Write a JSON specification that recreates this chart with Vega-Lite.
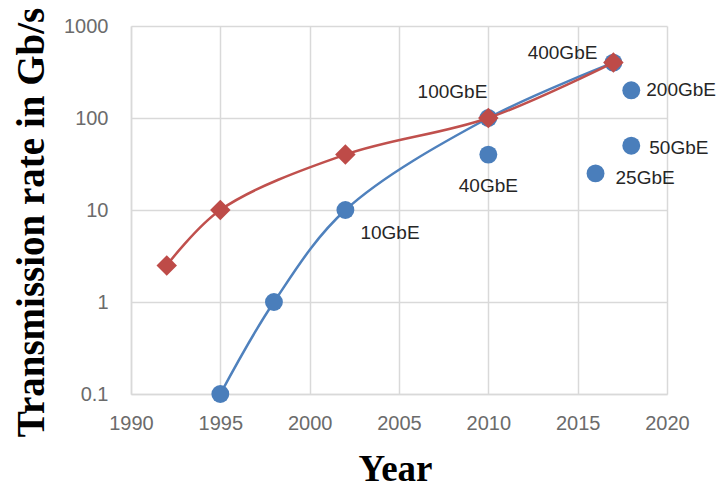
{
  "$schema": "https://vega.github.io/schema/vega-lite/v6.json",
  "width": 536,
  "height": 368,
  "autosize": {"type": "none"},
  "padding": {"left": 131, "top": 26, "right": 51, "bottom": 95},
  "background": "white",
  "config": {"view": {"stroke": null}},
  "data": {
    "values": [
      {"year": 1995, "rate": 0.1, "series": "blue", "label": ""},
      {"year": 1998, "rate": 1, "series": "blue", "label": ""},
      {"year": 2002, "rate": 10, "series": "blue", "label": "10GbE"},
      {"year": 2010, "rate": 100, "series": "blue", "label": "100GbE"},
      {"year": 2017, "rate": 400, "series": "blue", "label": "400GbE"},
      {"year": 1992, "rate": 2.5, "series": "red", "label": ""},
      {"year": 1995, "rate": 10, "series": "red", "label": ""},
      {"year": 2002, "rate": 40, "series": "red", "label": ""},
      {"year": 2010, "rate": 100, "series": "red", "label": ""},
      {"year": 2017, "rate": 400, "series": "red", "label": ""},
      {"year": 2010, "rate": 40, "series": "extra", "label": "40GbE"},
      {"year": 2016, "rate": 25, "series": "extra", "label": "25GbE"},
      {"year": 2018, "rate": 50, "series": "extra", "label": "50GbE"},
      {"year": 2018, "rate": 200, "series": "extra", "label": "200GbE"}
    ]
  },
  "encoding": {
    "x": {
      "field": "year",
      "type": "quantitative",
      "scale": {"domain": [1990, 2020], "nice": false, "zero": false},
      "axis": {
        "values": [1990, 1995, 2000, 2005, 2010, 2015, 2020],
        "format": "d",
        "title": "Year",
        "titleFont": "Liberation Serif",
        "titleFontSize": 37,
        "titleFontWeight": "bold",
        "titleColor": "black",
        "titleX": 264,
        "titleY": 86,
        "titleAlign": "center",
        "titleBaseline": "alphabetic",
        "labelFont": "Liberation Sans",
        "labelFontSize": 20,
        "labelColor": "#6b6b6b",
        "labelPadding": 19,
        "labelFlush": false,
        "labelOverlap": false,
        "ticks": false,
        "domainColor": "#d9d9d9",
        "domainWidth": 1.5,
        "gridColor": "#d9d9d9",
        "gridWidth": 1.5
      }
    },
    "y": {
      "field": "rate",
      "type": "quantitative",
      "scale": {"type": "log", "domain": [0.1, 1000], "nice": false},
      "axis": {
        "values": [0.1, 1, 10, 100, 1000],
        "format": "~g",
        "title": "Transmission rate in Gb/s",
        "titleFont": "Liberation Serif",
        "titleFontSize": 39,
        "titleFontWeight": "bold",
        "titleColor": "black",
        "titleAngle": -90,
        "titleX": -88,
        "titleY": 196,
        "titleAlign": "center",
        "titleBaseline": "alphabetic",
        "labelFont": "Liberation Sans",
        "labelFontSize": 20,
        "labelColor": "#6b6b6b",
        "labelPadding": 23,
        "labelFlush": false,
        "labelOverlap": false,
        "ticks": false,
        "domainColor": "#d9d9d9",
        "domainWidth": 1.5,
        "gridColor": "#d9d9d9",
        "gridWidth": 1.5
      }
    }
  },
  "layer": [
    {
      "transform": [{"filter": "datum.series == 'blue'"}],
      "mark": {"type": "line", "color": "#4f81bd", "strokeWidth": 2.5, "interpolate": "catmull-rom"}
    },
    {
      "transform": [{"filter": "datum.series != 'red'"}],
      "mark": {"type": "point", "shape": "circle", "filled": true, "opacity": 1, "color": "#4a7ebb", "size": 320}
    },
    {
      "transform": [{"filter": "datum.series == 'red'"}],
      "mark": {"type": "line", "color": "#c0504d", "strokeWidth": 2.5, "interpolate": "catmull-rom"}
    },
    {
      "transform": [{"filter": "datum.series == 'red'"}],
      "mark": {"type": "point", "shape": "diamond", "filled": true, "opacity": 1, "color": "#be4b48", "size": 420}
    },
    {
      "transform": [{"filter": "datum.label == '400GbE'"}],
      "mark": {"type": "text", "align": "right", "baseline": "middle", "dx": -16, "dy": -10, "font": "Liberation Sans", "fontSize": 19, "color": "#262626"},
      "encoding": {"text": {"field": "label"}}
    },
    {
      "transform": [{"filter": "datum.label == '100GbE'"}],
      "mark": {"type": "text", "align": "right", "baseline": "middle", "dx": -1, "dy": -26, "font": "Liberation Sans", "fontSize": 19, "color": "#262626"},
      "encoding": {"text": {"field": "label"}}
    },
    {
      "transform": [{"filter": "datum.label == '40GbE'"}],
      "mark": {"type": "text", "align": "center", "baseline": "middle", "dy": 31, "font": "Liberation Sans", "fontSize": 19, "color": "#262626"},
      "encoding": {"text": {"field": "label"}}
    },
    {
      "transform": [{"filter": "datum.label == '10GbE'"}],
      "mark": {"type": "text", "align": "left", "baseline": "middle", "dx": 15, "dy": 23, "font": "Liberation Sans", "fontSize": 19, "color": "#262626"},
      "encoding": {"text": {"field": "label"}}
    },
    {
      "transform": [{"filter": "datum.label == '25GbE'"}],
      "mark": {"type": "text", "align": "left", "baseline": "middle", "dx": 20, "dy": 5, "font": "Liberation Sans", "fontSize": 19, "color": "#262626"},
      "encoding": {"text": {"field": "label"}}
    },
    {
      "transform": [{"filter": "datum.label == '50GbE'"}],
      "mark": {"type": "text", "align": "left", "baseline": "middle", "dx": 18, "dy": 2, "font": "Liberation Sans", "fontSize": 19, "color": "#262626"},
      "encoding": {"text": {"field": "label"}}
    },
    {
      "transform": [{"filter": "datum.label == '200GbE'"}],
      "mark": {"type": "text", "align": "left", "baseline": "middle", "dx": 15, "dy": 0, "font": "Liberation Sans", "fontSize": 19, "color": "#262626"},
      "encoding": {"text": {"field": "label"}}
    }
  ]
}
